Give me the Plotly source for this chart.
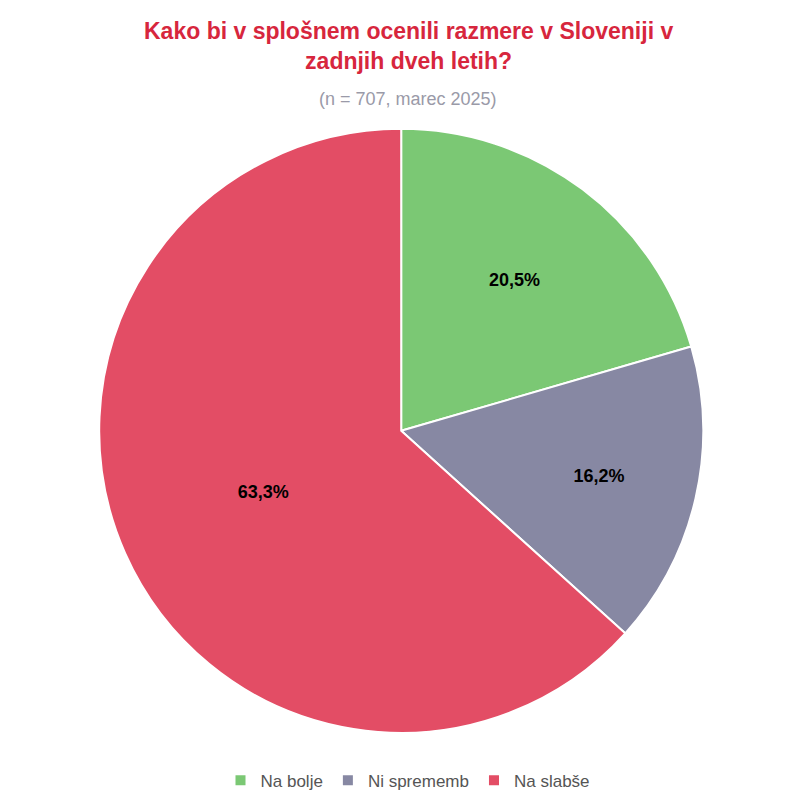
import plotly.graph_objects as go

labels = ["Na bolje", "Ni sprememb", "Na slabše"]
values = [20.5, 16.2, 63.3]
text_labels = ["20,5%", "16,2%", "63,3%"]
colors = ["#7BC874", "#8788A3", "#E34D65"]

fig = go.Figure(go.Pie(
    labels=labels, values=values, text=text_labels, textinfo="text",
    textposition="inside", insidetextorientation="horizontal",
    sort=False, direction="clockwise", rotation=0,
    marker=dict(colors=colors, line=dict(color="white", width=2)),
    textfont=dict(family="Liberation Sans, Arial", size=18, color="black", weight="bold"),
    domain=dict(x=[0.114, 0.869], y=[0.094, 0.849]),
    hoverinfo="label+percent",
))
fig.update_layout(
    width=800, height=800, paper_bgcolor="white",
    margin=dict(l=0, r=0, t=0, b=0),
    font=dict(family="Liberation Sans, Arial"),
    annotations=[
        dict(text="<b>Kako bi v splošnem ocenili razmere v Sloveniji v<br>zadnjih dveh letih?</b>",
             x=0.5, y=0.99, xref="paper", yref="paper", xanchor="center", yanchor="top",
             showarrow=False, font=dict(size=23, color="#D7263D")),
        dict(text="(n = 707, marec 2025)", x=0.5, y=0.886, xref="paper", yref="paper",
             xanchor="center", yanchor="middle", showarrow=False,
             font=dict(size=18, color="#9A9AA8")),
    ],
    legend=dict(orientation="h", x=0.5, xanchor="center", y=0.034, yanchor="middle",
                font=dict(size=17, color="#555555")),
)
fig.write_html("out.html")
